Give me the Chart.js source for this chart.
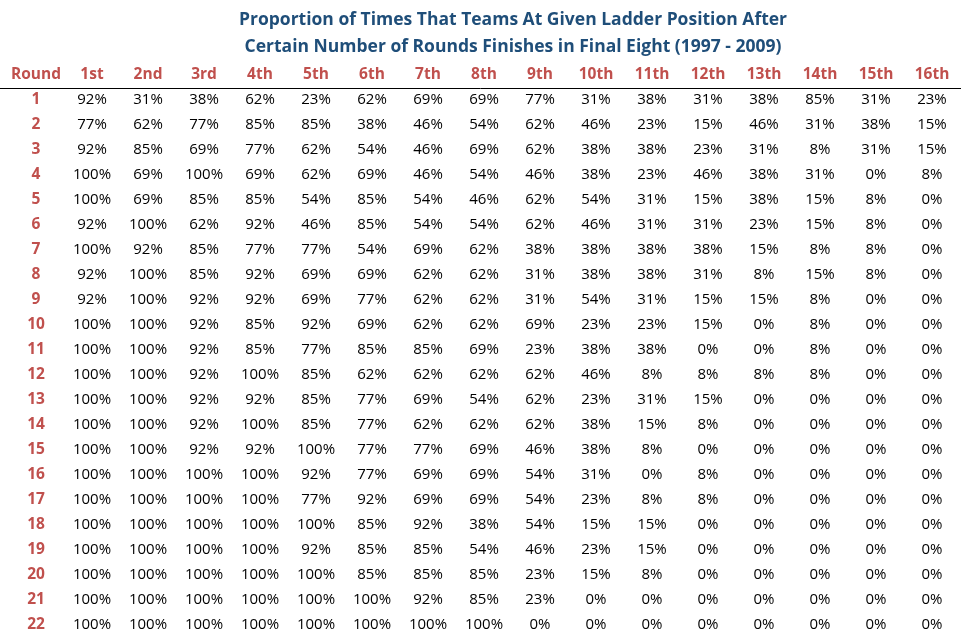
<!DOCTYPE html>
<html><head><meta charset="utf-8">
<script src="https://cdn.jsdelivr.net/npm/chart.js@4"></script>
<style>html,body{margin:0;padding:0;background:#fff}#w{width:961px;height:637px}</style>
</head><body><div id="w"><canvas id="c"></canvas></div>
<script>
const titleLines = ["Proportion of Times That Teams At Given Ladder Position After","Certain Number of Rounds Finishes in Final Eight (1997 - 2009)"];
const headerLabels = ["Round","1st","2nd","3rd","4th","5th","6th","7th","8th","9th","10th","11th","12th","13th","14th","15th","16th"];
const rounds = [1,2,3,4,5,6,7,8,9,10,11,12,13,14,15,16,17,18,19,20,21,22];
const values = [
[92,31,38,62,23,62,69,69,77,31,38,31,38,85,31,23],
[77,62,77,85,85,38,46,54,62,46,23,15,46,31,38,15],
[92,85,69,77,62,54,46,69,62,38,38,23,31,8,31,15],
[100,69,100,69,62,69,46,54,46,38,23,46,38,31,0,8],
[100,69,85,85,54,85,54,46,62,54,31,15,38,15,8,0],
[92,100,62,92,46,85,54,54,62,46,31,31,23,15,8,0],
[100,92,85,77,77,54,69,62,38,38,38,38,15,8,8,0],
[92,100,85,92,69,69,62,62,31,38,38,31,8,15,8,0],
[92,100,92,92,69,77,62,62,31,54,31,15,15,8,0,0],
[100,100,92,85,92,69,62,62,69,23,23,15,0,8,0,0],
[100,100,92,85,77,85,85,69,23,38,38,0,0,8,0,0],
[100,100,92,100,85,62,62,62,62,46,8,8,8,8,0,0],
[100,100,92,92,85,77,69,54,62,23,31,15,0,0,0,0],
[100,100,92,100,85,77,62,62,62,38,15,8,0,0,0,0],
[100,100,92,92,100,77,77,69,46,38,8,0,0,0,0,0],
[100,100,100,100,92,77,69,69,54,31,0,8,0,0,0,0],
[100,100,100,100,77,92,69,69,54,23,8,8,0,0,0,0],
[100,100,100,100,100,85,92,38,54,15,15,0,0,0,0,0],
[100,100,100,100,92,85,85,54,46,23,15,0,0,0,0,0],
[100,100,100,100,100,85,85,85,23,15,8,0,0,0,0,0],
[100,100,100,100,100,100,92,85,23,0,0,0,0,0,0,0],
[100,100,100,100,100,100,100,100,0,0,0,0,0,0,0,0]
];
const pts=[];
rounds.forEach((r,i)=>values[i].forEach((v,j)=>pts.push({x:j+1,y:r,v})));
const tablePlugin={id:'tbl',afterDatasetsDraw(ch){
 const c=ch.ctx,xs=ch.scales.x,ys=ch.scales.y;
 c.save();c.textAlign='center';c.textBaseline='middle';
 c.fillStyle='#1F4E79';c.font='bold 17.5px "Open Sans", sans-serif';
 c.fillText(titleLines[0],513,ys.getPixelForValue(-2.2));
 c.fillText(titleLines[1],513,ys.getPixelForValue(-1.12));
 c.fillStyle='#C0504D';c.font='bold 15.5px "Open Sans", sans-serif';
 headerLabels.forEach((h,j)=>c.fillText(h,xs.getPixelForValue(j),ys.getPixelForValue(0)));
 rounds.forEach(r=>c.fillText(String(r),xs.getPixelForValue(0),ys.getPixelForValue(r)));
 c.strokeStyle='#000';c.lineWidth=1;c.beginPath();
 const ly=Math.round(ys.getPixelForValue(0.52))+0.5;c.moveTo(0,ly);c.lineTo(961,ly);c.stroke();
 c.fillStyle='#000';c.font='15px "Open Sans", sans-serif';
 ch.data.datasets[0].data.forEach(p=>c.fillText(p.v+'%',xs.getPixelForValue(p.x),ys.getPixelForValue(p.y)));
 c.restore();}};
new Chart(document.getElementById('c'),{type:'scatter',
 data:{datasets:[{data:pts,pointRadius:0,pointHoverRadius:0}]},
 options:{responsive:true,maintainAspectRatio:false,animation:false,
  layout:{padding:0},
  plugins:{legend:{display:false},tooltip:{enabled:false}},
  scales:{x:{type:'linear',min:-0.643,max:16.518,display:false},
          y:{type:'linear',min:-3,max:22.48,reverse:true,display:false}}},
 plugins:[tablePlugin]});
</script></body></html>
